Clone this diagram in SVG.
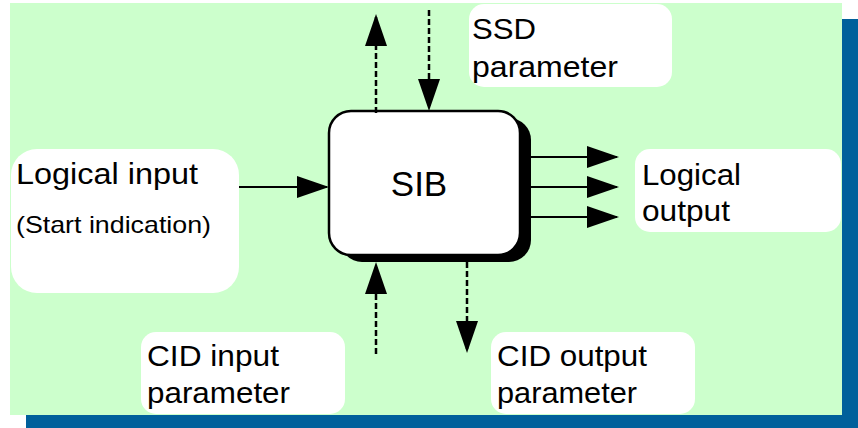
<svg xmlns="http://www.w3.org/2000/svg" width="858" height="428" viewBox="0 0 858 428">
  <style>
    .lbl { fill: #ffffff; stroke: none; }
    .txt { font-family: "Liberation Sans", Arial, sans-serif; font-size: 30px; fill: #000000; }
    .solid { stroke: #000000; stroke-width: 2; fill: none; }
    .dash { stroke: #000000; stroke-width: 2.5; fill: none; stroke-dasharray: 6 3; }
  </style>
  <defs>
    <marker id="head" markerUnits="userSpaceOnUse" markerWidth="32" markerHeight="22" refX="30" refY="11" orient="auto" overflow="visible">
      <path d="M0,0 L32,11 L0,22 Z" fill="#000000"/>
    </marker>
  </defs>

  <!-- background panel with offset blue backing -->
  <rect x="26" y="19" width="832" height="409" fill="#00609b"/>
  <rect x="10" y="3" width="832" height="412" fill="#ccffcc"/>

  <!-- label boxes -->
  <g id="logical-input">
    <rect class="lbl" x="11" y="149" width="228" height="144" rx="26"/>
    <text class="txt" x="16" y="184" textLength="182" lengthAdjust="spacingAndGlyphs">Logical input</text>
    <text class="txt" x="16" y="233" style="font-size:24px" textLength="195" lengthAdjust="spacingAndGlyphs">(Start indication)</text>
  </g>

  <g id="ssd-parameter">
    <rect class="lbl" x="469" y="4" width="203" height="83" rx="15"/>
    <text class="txt" x="472" y="39" textLength="64" lengthAdjust="spacingAndGlyphs">SSD</text>
    <text class="txt" x="472" y="77" textLength="146" lengthAdjust="spacingAndGlyphs">parameter</text>
  </g>

  <g id="logical-output">
    <rect class="lbl" x="635" y="149" width="206" height="83" rx="15"/>
    <text class="txt" x="642" y="185" textLength="99" lengthAdjust="spacingAndGlyphs">Logical</text>
    <text class="txt" x="642" y="221" textLength="88" lengthAdjust="spacingAndGlyphs">output</text>
  </g>

  <g id="cid-input">
    <rect class="lbl" x="141" y="332" width="204" height="82" rx="15"/>
    <text class="txt" x="147" y="366" textLength="132" lengthAdjust="spacingAndGlyphs">CID input</text>
    <text class="txt" x="147" y="403" textLength="143" lengthAdjust="spacingAndGlyphs">parameter</text>
  </g>

  <g id="cid-output">
    <rect class="lbl" x="491" y="332" width="204" height="82" rx="15"/>
    <text class="txt" x="497" y="366" textLength="150" lengthAdjust="spacingAndGlyphs">CID output</text>
    <text class="txt" x="497" y="403" textLength="140" lengthAdjust="spacingAndGlyphs">parameter</text>
  </g>

  <!-- central block with drop shadow -->
  <g id="sib">
    <rect x="340" y="118" width="191" height="144" rx="22" fill="#000000"/>
    <rect x="329" y="111" width="191" height="144" rx="22" fill="#ffffff" stroke="#000000" stroke-width="2.5"/>
    <text class="txt" x="419" y="196" text-anchor="middle" style="font-size:35px">SIB</text>
  </g>

  <!-- connectors -->
  <g id="connectors">
    <line class="solid" x1="239" y1="187" x2="327" y2="187" marker-end="url(#head)"/>
    <line class="solid" x1="520" y1="157" x2="617" y2="157" marker-end="url(#head)"/>
    <line class="solid" x1="520" y1="187" x2="617" y2="187" marker-end="url(#head)"/>
    <line class="solid" x1="520" y1="217" x2="617" y2="217" marker-end="url(#head)"/>
    <line class="dash" x1="376" y1="113" x2="376" y2="16" marker-end="url(#head)"/>
    <line class="dash" x1="429" y1="10" x2="429" y2="109" marker-end="url(#head)"/>
    <line class="dash" x1="376" y1="354" x2="376" y2="264" marker-end="url(#head)"/>
    <line class="dash" x1="467" y1="262" x2="467" y2="351" marker-end="url(#head)"/>
  </g>
</svg>
